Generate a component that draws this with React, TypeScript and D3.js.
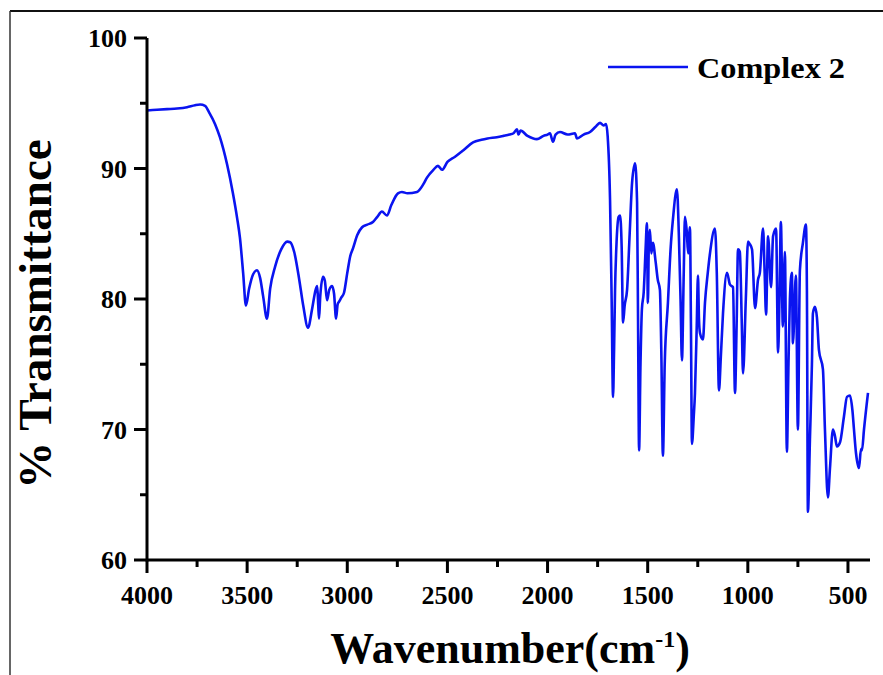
import React from 'react';
import * as d3 from 'd3';

// IR spectrum
const wavenumbers = [
  4000, 3950, 3900, 3850, 3800, 3760, 3735, 3710, 3690, 3660, 3636, 3600, 3571, 3550, 3536, 3520, 3506,
  3490, 3470, 3451, 3435, 3420, 3401, 3385, 3360, 3330, 3300, 3285, 3265, 3240, 3220, 3196, 3175, 3158,
  3150, 3145, 3141, 3135, 3121, 3112, 3101, 3090, 3076, 3066, 3056, 3048, 3041, 3030, 3016, 3000, 2985,
  2971, 2950, 2926, 2900, 2872, 2850, 2827, 2802, 2780, 2747, 2727, 2700, 2652, 2620, 2602, 2570, 2547,
  2527, 2500, 2462, 2420, 2372, 2330, 2300, 2253, 2220, 2190, 2170, 2153, 2145, 2135, 2100, 2053, 2020,
  2000, 1988, 1973, 1960, 1938, 1900, 1863, 1853, 1820, 1788, 1760, 1738, 1720, 1708, 1700, 1688, 1680,
  1673, 1668, 1663, 1655, 1645, 1638, 1630, 1623, 1615, 1603, 1590, 1578, 1563, 1553, 1548, 1543, 1536,
  1529, 1520, 1510, 1504, 1499, 1494, 1489, 1482, 1474, 1460, 1450, 1439, 1432, 1424, 1415, 1399, 1385,
  1374, 1354, 1344, 1336, 1329, 1320, 1314, 1305, 1298, 1289, 1284, 1279, 1270, 1264, 1255, 1249, 1244,
  1239, 1224, 1214, 1200, 1189, 1164, 1155, 1144, 1135, 1124, 1104, 1089, 1074, 1064, 1056, 1049, 1040,
  1030, 1024, 1010, 999, 990, 979, 964, 949, 940, 924, 916, 909, 899, 884, 874, 859, 849, 842, 835, 825,
  815, 805, 797, 790, 780, 775, 760, 750, 740, 725, 710, 705, 700, 690, 680, 675, 665, 655, 645, 625, 615,
  600, 590, 575, 565, 555, 540, 520, 505, 490, 478, 470, 460, 445, 435, 430, 420, 400,
];
const transmittance = [
  94.45, 94.5, 94.55, 94.6, 94.7, 94.85, 94.9, 94.8, 94.3, 93.4, 92.4, 90.3, 88.1, 86.2, 84.7, 82, 79.5,
  80.8, 81.9, 82.2, 81.6, 80.2, 78.5, 80.8, 82.5, 83.8, 84.4, 84.35, 83.6, 81.5, 79.5, 77.8, 79.3, 80.7,
  81, 79.5, 78.5, 80.2, 81.7, 81.4, 79.9, 80.7, 81, 80.4, 78.5, 79.6, 79.8, 80.1, 80.5, 82, 83.3,
  83.9, 84.9, 85.5, 85.7, 85.9, 86.3, 86.7, 86.4, 87.2, 88.1, 88.2, 88.1, 88.2, 88.8, 89.3, 89.9, 90.2,
  89.9, 90.5, 90.9, 91.4, 92.0, 92.2, 92.3, 92.4, 92.5, 92.6, 92.7, 93.0, 92.6, 92.9, 92.5, 92.25, 92.5,
  92.6, 92.7, 92.05, 92.6, 92.8, 92.6, 92.7, 92.3, 92.6, 92.8, 93.2, 93.5, 93.3, 93.4, 92.5, 87.6, 80,
  72.5, 76, 80.7, 84.5, 86.3, 86.4, 84, 78.2, 79.5, 80.7, 85, 88.9, 90.4, 87.4, 78, 68.4, 75,
  79.2, 80.5, 84, 85.8, 79.7, 84.5, 85.3, 83.5, 84.3, 82.8, 81.5, 80.7, 76, 68.0, 75, 79.7, 84,
  86.1, 88.4, 84.7, 80, 75.3, 82, 86.3, 85.2, 83.5, 85.5, 78, 68.9, 71, 72.8, 78, 81.8, 78.5,
  77.4, 76.9, 79.7, 82, 83.5, 85.4, 82, 73.0, 75.5, 78.9, 82.0, 81.1, 80.9, 72.8, 78, 83.8, 83.6,
  78, 74.3, 80, 84.4, 84.2, 83.8, 79.3, 81.5, 82, 85.4, 82, 78.8, 84.8, 80.9, 84.8, 85.4, 75.9, 80, 85.9, 77.9,
  83.6, 68.3, 75, 80.0, 82.0, 76.6, 81.8, 70.0, 82.2, 84.3, 85.7, 80.7, 63.7, 69.2, 75, 78.9, 79.4, 78.6, 76.1, 74.6, 70,
  64.8, 67, 70.0, 69.5, 68.7, 69, 71, 72.5, 72.6, 71.5, 70, 68.2, 67.05, 68.5, 68.4, 70, 72.8,
];

const xTicks = [4000, 3500, 3000, 2500, 2000, 1500, 1000, 500];
const xMinor = [3750, 3250, 2750, 2250, 1750, 1250, 750];
const yTicks = [60, 70, 80, 90, 100];
const yMinor = [65, 75, 85, 95];
const seriesName = 'Complex 2';

const W = 883;
const H = 675;
const font = '"Liberation Serif", "Times New Roman", serif';
const blue = '#0a14f0';

const App = () => {
  const x = d3.scaleLinear().domain([4000, 390]).range([147, 870]);
  const y = d3.scaleLinear().domain([60, 100]).range([560, 38]);

  const pts: [number, number][] = wavenumbers.map((w, i) => [w, transmittance[i]]);
  const line = d3
    .line<[number, number]>()
    .x(d => x(d[0]))
    .y(d => y(d[1]))
    .curve(d3.curveMonotoneX);

  const x0 = x.range()[0];
  const y0 = y.range()[0];

  return (
    <svg width={W} height={H} style={{ position: 'absolute', left: 0, top: 0, background: '#fff' }}>
      {/* picture frame */}
      <line x1={10} y1={11} x2={W} y2={11} stroke="#111" strokeWidth={2} />
      <line x1={10} y1={11} x2={10} y2={H} stroke="#333" strokeWidth={1.5} />

      <path d={line(pts) || ''} fill="none" stroke={blue} strokeWidth={2.6} strokeLinejoin="round" />

      {/* axes */}
      <line x1={x0} y1={y0} x2={x.range()[1]} y2={y0} stroke="#000" strokeWidth={3} />
      <line x1={x0} y1={y0 + 1.5} x2={x0} y2={y.range()[1]} stroke="#000" strokeWidth={3} />

      {xTicks.map(t => (
        <g key={'xt' + t}>
          <line x1={x(t)} x2={x(t)} y1={y0} y2={y0 + 13} stroke="#000" strokeWidth={3} />
          <text x={x(t)} y={604} textAnchor="middle" fontFamily={font} fontWeight="bold" fontSize={26}>
            {t}
          </text>
        </g>
      ))}
      {xMinor.map(t => (
        <line key={'xm' + t} x1={x(t)} x2={x(t)} y1={y0} y2={y0 + 7} stroke="#000" strokeWidth={3} />
      ))}
      {yTicks.map(t => (
        <g key={'yt' + t}>
          <line x1={x0 - 13} x2={x0} y1={y(t)} y2={y(t)} stroke="#000" strokeWidth={3} />
          <text x={127} y={y(t)} dy="0.35em" textAnchor="end" fontFamily={font} fontWeight="bold" fontSize={26}>
            {t}
          </text>
        </g>
      ))}
      {yMinor.map(t => (
        <line key={'ym' + t} x1={x0 - 7} x2={x0} y1={y(t)} y2={y(t)} stroke="#000" strokeWidth={3} />
      ))}

      {/* axis titles */}
      <text
        transform="translate(51,314) rotate(-90)"
        textAnchor="middle"
        fontFamily={font}
        fontWeight="bold"
        fontSize={47}
      >
        % Transmittance
      </text>
      <text x={510} y={663} textAnchor="middle" fontFamily={font} fontWeight="bold" fontSize={44}>
        Wavenumber(cm<tspan dy={-16} fontSize={24}>-1</tspan>
        <tspan dy={16}>)</tspan>
      </text>

      {/* legend */}
      <line x1={608} x2={688} y1={67} y2={67} stroke={blue} strokeWidth={2.6} />
      <text x={697} y={78} fontFamily={font} fontWeight="bold" fontSize={30} textLength={148} lengthAdjust="spacingAndGlyphs">
        {seriesName}
      </text>
    </svg>
  );
};

export default App;
